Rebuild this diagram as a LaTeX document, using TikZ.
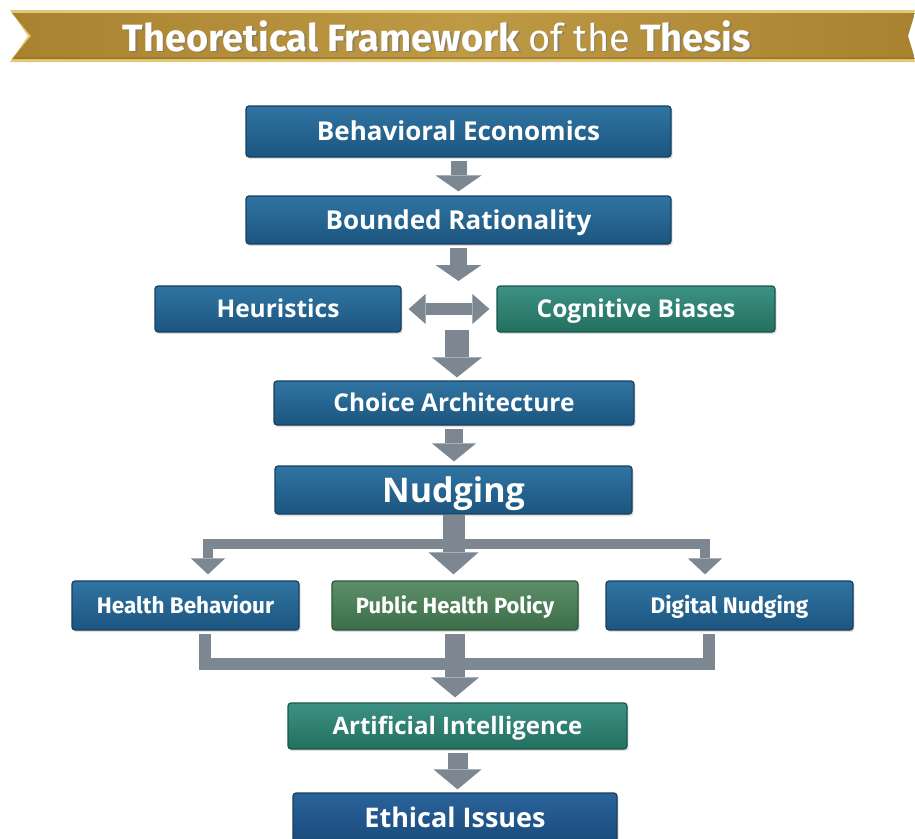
\documentclass[tikz,border=0pt]{standalone}
\usepackage{fontspec}
\setmainfont{Open Sans}
\newfontfamily\firafont{Fira Sans}
\usetikzlibrary{arrows.meta,shadows,calc}
\definecolor{bluetop}{HTML}{3074A1}
\definecolor{bluebot}{HTML}{1C5580}
\definecolor{blueline}{HTML}{163F60}
\definecolor{dbluetop}{HTML}{2A639A}
\definecolor{dbluebot}{HTML}{1A4A7C}
\definecolor{tealtop}{HTML}{3C9184}
\definecolor{tealbot}{HTML}{23705F}
\definecolor{tealline}{HTML}{1B554C}
\definecolor{greentop}{HTML}{5C8E68}
\definecolor{greenbot}{HTML}{3C6E4A}
\definecolor{greenline}{HTML}{2C573A}
\definecolor{arrowgray}{HTML}{7C8792}
\definecolor{goldmain}{HTML}{A9822F}
\definecolor{goldlight}{HTML}{BE9A45}
\definecolor{goldedge}{HTML}{E3C877}
\tikzset{
  boxbase/.style={rounded corners=3pt, line width=1.2pt, text=white, text depth=0pt,
    drop shadow={opacity=0.25, shadow xshift=1.5pt, shadow yshift=-2pt}},
  bluebox/.style={boxbase, draw=blueline, top color=bluetop, bottom color=bluebot},
  dbluebox/.style={boxbase, draw=blueline, top color=dbluetop, bottom color=dbluebot},
  tealbox/.style={boxbase, draw=tealline, top color=tealtop, bottom color=tealbot},
  greenbox/.style={boxbase, draw=greenline, top color=greentop, bottom color=greenbot},
  fs/.style={font=\bfseries\fontsize{#1}{#1}\selectfont, text height={0.714*#1pt}},
  rowfont/.style={font=\firafont\bfseries\fontsize{#1}{#1}\selectfont, text height={0.689*#1pt}},
  garrow/.style n args={3}{draw=arrowgray, line width=#1,
    -{Triangle[width=#2,length=#3,line width=0pt]}},
  darrow/.style n args={3}{draw=arrowgray, line width=#1,
    {Triangle[width=#2,length=#3,line width=0pt]}-{Triangle[width=#2,length=#3,line width=0pt]}},
  gbar/.style={draw=arrowgray, line width=#1},
  titletext/.style={text=white, font=\firafont\fontsize{38}{42}\selectfont}
}
\begin{document}
\begin{tikzpicture}[x=1pt,y=1pt]
\useasboundingbox (0,0) rectangle (915,-838);
\clip (0,0) rectangle (915,-838);
\fill[white] (0,0) rectangle (915,-838);
% banner
\fill[goldedge] (10,-10) -- (915,-10) -- (905,-36) -- (915,-62) -- (10,-62) -- (28,-36) -- cycle;
\shade[left color=goldmain, right color=goldmain, middle color=goldlight]
  (12,-13) -- (915,-13) -- (908,-36) -- (915,-59) -- (12,-59) -- (31,-36) -- cycle;
\fill[goldmain!85!black, opacity=0.5] (14,-57) rectangle (913,-59);
\node[titletext, text=black!55, opacity=0.6] at (438.5,-37.5) {\bfseries Theoretical Framework \mdseries of the \bfseries Thesis};
\node[titletext] (title) at (437,-36) {\bfseries Theoretical Framework \mdseries of the \bfseries Thesis};
% boxes
\node[bluebox, fs=26, minimum width=425pt, minimum height=51pt] (be) at (458.5,-131.5) {Behavioral Economics};
\node[bluebox, fs=26, minimum width=425pt, minimum height=48pt] (br) at (458.5,-220) {Bounded Rationality};
\node[bluebox, fs=24.5, minimum width=246pt, minimum height=46pt] (h) at (278,-309) {Heuristics};
\node[tealbox, fs=24.5, minimum width=278pt, minimum height=46pt] (cb) at (636,-309) {Cognitive Biases};
\node[bluebox, fs=24.5, minimum width=360pt, minimum height=44pt] (ca) at (454,-403) {Choice Architecture};
\node[bluebox, fs=34, minimum width=357pt, minimum height=48pt] (n) at (453.5,-490) {Nudging};
\node[bluebox, rowfont=22.5, minimum width=227pt, minimum height=49pt] (hb) at (185.5,-605.5) {Health Behaviour};
\node[greenbox, rowfont=22, minimum width=246pt, minimum height=49pt] (php) at (455,-605.5) {Public Health Policy};
\node[bluebox, rowfont=22.5, minimum width=247pt, minimum height=49pt] (dn) at (729.5,-605.5) {Digital Nudging};
\node[tealbox, fs=24, minimum width=339pt, minimum height=46pt] (ai) at (457.5,-726) {Artificial Intelligence};
\node[dbluebox, fs=27, minimum width=324pt, minimum height=50pt] (ei) at (455,-818) {Ethical Issues};
% connectors
\coordinate (m1) at (458.5,-281);
\coordinate (m2) at (457,-330);
\draw[garrow={16pt}{46pt}{16pt}] ([yshift=-3pt]be.south) -- ([yshift=4pt]br.north);
\draw[garrow={17pt}{46pt}{16pt}] ([yshift=-3pt]br.south) -- (m1);
\draw[darrow={12pt}{30pt}{17pt}] ([xshift=7pt]h.east) -- ([xshift=-7pt]cb.west);
\draw[garrow={24pt}{50pt}{20pt}] (m2) -- ([yshift=3pt]m2 |- ca.north);
\draw[garrow={18pt}{44pt}{18pt}] ([yshift=-3pt]ca.south) -- ([yshift=4pt]ca.south |- n.north);
\coordinate (bj) at ($(n.south)+(0,-29)$);
\draw[garrow={10pt}{34pt}{16pt}] (bj) -| ([xshift=22.5pt,yshift=6pt]hb.north);
\draw[garrow={10pt}{34pt}{16pt}] (bj) -| ([xshift=-24.5pt,yshift=6pt]dn.north);
\draw[garrow={22pt}{50pt}{22pt}] (n.south) -- ([yshift=6pt]n.south |- php.north);
\draw[gbar=12pt] ([xshift=19.5pt,yshift=-3pt]hb.south) -- ++(0,-30) -| ([xshift=-20.5pt,yshift=-3pt]dn.south);
\draw[garrow={20pt}{48pt}{20pt}] ([yshift=-3pt]php.south) -- ([yshift=5pt]php.south |- ai.north);
\draw[garrow={20pt}{48pt}{20pt}] ([yshift=-3pt]ai.south) -- ([yshift=3pt]ai.south |- ei.north);
\end{tikzpicture}
\end{document}
